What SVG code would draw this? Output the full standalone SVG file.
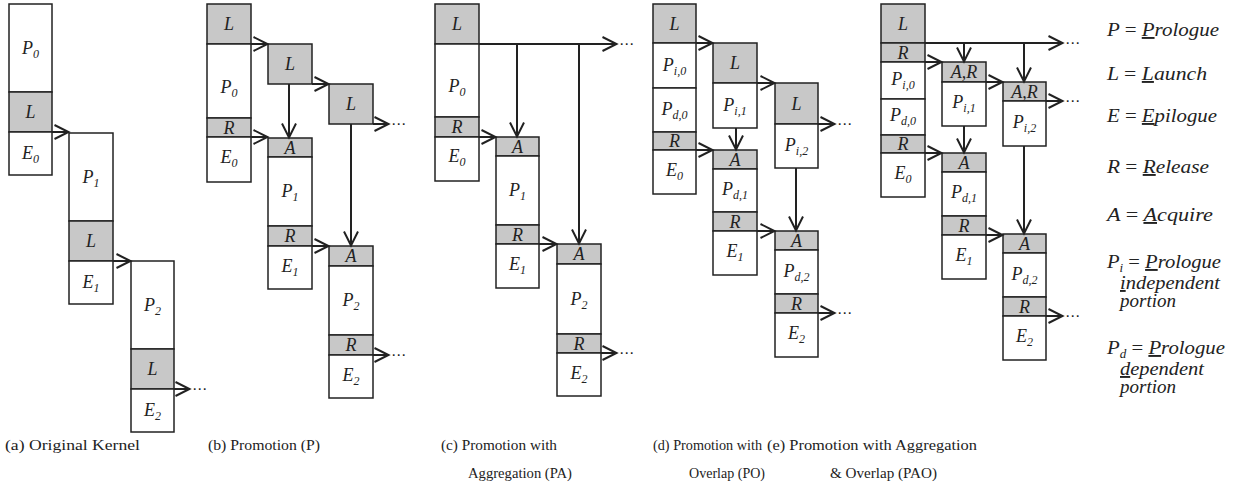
<svg xmlns="http://www.w3.org/2000/svg" width="1255" height="491" viewBox="0 0 1255 491">
<style>
.b{fill:#fff;stroke:#222;stroke-width:1.5}
.g{fill:#c8c8c8;stroke:#222;stroke-width:1.5}
.c{fill:none;stroke:#222;stroke-width:2;marker-end:url(#ah)}
.t{font-style:italic;font-size:18px;text-anchor:middle;fill:#222}
.s{font-size:12px}
.d{font-size:15px;fill:#222}
.lg{font-style:italic;font-size:19px;fill:#222}
.cap{font-size:15.5px;fill:#222}
.u{text-decoration:underline}
.up{font-style:normal}
</style>
<defs>
<marker id="ah" markerUnits="userSpaceOnUse" markerWidth="18" markerHeight="18" viewBox="0 0 18 18" refX="16.5" refY="9" orient="auto">
<path d="M2,2 L16,9 L2,16" fill="none" stroke="#222" stroke-width="2"/>
</marker>
</defs>

<g font-family="'Liberation Serif', 'DejaVu Serif', 'Times New Roman', serif">
<!-- Panel (a) -->
<g id="a0">
<rect class="b" x="9" y="4" width="43" height="88"/><rect class="g" x="9" y="92" width="43" height="40"/><rect class="b" x="9" y="132" width="43" height="43"/>
<text class="t" x="30.5" y="54">P<tspan class="s" dy="4">0</tspan></text>
<text class="t" x="30.5" y="118">L</text>
<text class="t" x="30.5" y="159">E<tspan class="s" dy="4">0</tspan></text>
</g>
<g id="a1">
<rect class="b" x="69" y="133" width="44" height="88"/><rect class="g" x="69" y="221" width="44" height="40"/><rect class="b" x="69" y="261" width="44" height="43"/>
<text class="t" x="91" y="183">P<tspan class="s" dy="4">1</tspan></text>
<text class="t" x="91" y="247">L</text>
<text class="t" x="91" y="288">E<tspan class="s" dy="4">1</tspan></text>
</g>
<g id="a2">
<rect class="b" x="131" y="261" width="43" height="88"/><rect class="g" x="131" y="349" width="43" height="40"/><rect class="b" x="131" y="389" width="43" height="43"/>
<text class="t" x="152.5" y="311">P<tspan class="s" dy="4">2</tspan></text>
<text class="t" x="152.5" y="375">L</text>
<text class="t" x="152.5" y="416">E<tspan class="s" dy="4">2</tspan></text>
</g>

<!-- Panel (b) -->
<g id="b0">
<rect class="g" x="207" y="4" width="44" height="40"/><rect class="b" x="207" y="44" width="44" height="74"/><rect class="g" x="207" y="118" width="44" height="19"/><rect class="b" x="207" y="137" width="44" height="45"/>
<text class="t" x="229" y="30">L</text>
<text class="t" x="229" y="93">P<tspan class="s" dy="4">0</tspan></text>
<text class="t" x="229" y="134">R</text>
<text class="t" x="229" y="163">E<tspan class="s" dy="4">0</tspan></text>
</g>
<g id="b1L"><rect class="g" x="268" y="44" width="44" height="40"/><text class="t" x="290" y="70">L</text></g>
<g id="b1">
<rect class="g" x="268" y="138" width="44" height="19"/><rect class="b" x="268" y="157" width="44" height="69"/><rect class="g" x="268" y="226" width="44" height="20"/><rect class="b" x="268" y="246" width="44" height="43"/>
<text class="t" x="290" y="154">A</text>
<text class="t" x="290" y="197">P<tspan class="s" dy="4">1</tspan></text>
<text class="t" x="290" y="242">R</text>
<text class="t" x="290" y="272">E<tspan class="s" dy="4">1</tspan></text>
</g>
<g id="b2L"><rect class="g" x="329" y="84" width="44" height="40"/><text class="t" x="351" y="110">L</text></g>
<g id="b2">
<rect class="g" x="329" y="246" width="44" height="20"/><rect class="b" x="329" y="266" width="44" height="69"/><rect class="g" x="329" y="335" width="44" height="20"/><rect class="b" x="329" y="355" width="44" height="43"/>
<text class="t" x="351" y="262">A</text>
<text class="t" x="351" y="306">P<tspan class="s" dy="4">2</tspan></text>
<text class="t" x="351" y="351">R</text>
<text class="t" x="351" y="381">E<tspan class="s" dy="4">2</tspan></text>
</g>

<!-- Panel (c) -->
<g id="c0">
<rect class="g" x="435" y="4" width="44" height="40"/><rect class="b" x="435" y="44" width="44" height="73"/><rect class="g" x="435" y="117" width="44" height="20"/><rect class="b" x="435" y="137" width="44" height="44"/>
<text class="t" x="457" y="30">L</text>
<text class="t" x="457" y="92">P<tspan class="s" dy="4">0</tspan></text>
<text class="t" x="457" y="133">R</text>
<text class="t" x="457" y="162">E<tspan class="s" dy="4">0</tspan></text>
</g>
<g id="c1">
<rect class="g" x="496" y="137" width="43" height="19"/><rect class="b" x="496" y="156" width="43" height="69"/><rect class="g" x="496" y="225" width="43" height="19"/><rect class="b" x="496" y="244" width="43" height="44"/>
<text class="t" x="517.5" y="153">A</text>
<text class="t" x="517.5" y="196">P<tspan class="s" dy="4">1</tspan></text>
<text class="t" x="517.5" y="241">R</text>
<text class="t" x="517.5" y="270">E<tspan class="s" dy="4">1</tspan></text>
</g>
<g id="c2">
<rect class="g" x="557" y="244" width="44" height="20"/><rect class="b" x="557" y="264" width="44" height="70"/><rect class="g" x="557" y="334" width="44" height="19"/><rect class="b" x="557" y="353" width="44" height="43"/>
<text class="t" x="579" y="260">A</text>
<text class="t" x="579" y="305">P<tspan class="s" dy="4">2</tspan></text>
<text class="t" x="579" y="350">R</text>
<text class="t" x="579" y="379">E<tspan class="s" dy="4">2</tspan></text>
</g>

<!-- Panel (d) -->
<g id="d0">
<rect class="g" x="653" y="4" width="43" height="39"/><rect class="b" x="653" y="43" width="43" height="45"/><rect class="b" x="653" y="88" width="43" height="44"/><rect class="g" x="653" y="132" width="43" height="18"/><rect class="b" x="653" y="150" width="43" height="44"/>
<text class="t" x="674.5" y="30">L</text>
<text class="t" x="674.5" y="71">P<tspan class="s" dy="4">i,0</tspan></text>
<text class="t" x="674.5" y="115">P<tspan class="s" dy="4">d,0</tspan></text>
<text class="t" x="674.5" y="147">R</text>
<text class="t" x="674.5" y="176">E<tspan class="s" dy="4">0</tspan></text>
</g>
<g id="d1t">
<rect class="g" x="713" y="43" width="44" height="40"/><rect class="b" x="713" y="83" width="44" height="45"/>
<text class="t" x="735" y="69">L</text>
<text class="t" x="735" y="111">P<tspan class="s" dy="4">i,1</tspan></text>
</g>
<g id="d1">
<rect class="g" x="713" y="150" width="44" height="19"/><rect class="b" x="713" y="169" width="44" height="43"/><rect class="g" x="713" y="212" width="44" height="19"/><rect class="b" x="713" y="231" width="44" height="44"/>
<text class="t" x="735" y="166">A</text>
<text class="t" x="735" y="195">P<tspan class="s" dy="4">d,1</tspan></text>
<text class="t" x="735" y="228">R</text>
<text class="t" x="735" y="257">E<tspan class="s" dy="4">1</tspan></text>
</g>
<g id="d2t">
<rect class="g" x="775" y="83" width="43" height="41"/><rect class="b" x="775" y="124" width="43" height="44"/>
<text class="t" x="796.5" y="110">L</text>
<text class="t" x="796.5" y="151">P<tspan class="s" dy="4">i,2</tspan></text>
</g>
<g id="d2">
<rect class="g" x="775" y="231" width="43" height="19"/><rect class="b" x="775" y="250" width="43" height="44"/><rect class="g" x="775" y="294" width="43" height="19"/><rect class="b" x="775" y="313" width="43" height="44"/>
<text class="t" x="796.5" y="247">A</text>
<text class="t" x="796.5" y="277">P<tspan class="s" dy="4">d,2</tspan></text>
<text class="t" x="796.5" y="310">R</text>
<text class="t" x="796.5" y="339">E<tspan class="s" dy="4">2</tspan></text>
</g>

<!-- Panel (e) -->
<g id="e0">
<rect class="g" x="881" y="4" width="44" height="39"/><rect class="g" x="881" y="43" width="44" height="19"/><rect class="b" x="881" y="62" width="44" height="37"/><rect class="b" x="881" y="99" width="44" height="36"/><rect class="g" x="881" y="135" width="44" height="18"/><rect class="b" x="881" y="153" width="44" height="44"/>
<text class="t" x="903" y="30">L</text>
<text class="t" x="903" y="59">R</text>
<text class="t" x="903" y="85">P<tspan class="s" dy="4">i,0</tspan></text>
<text class="t" x="903" y="121">P<tspan class="s" dy="4">d,0</tspan></text>
<text class="t" x="903" y="150">R</text>
<text class="t" x="903" y="179">E<tspan class="s" dy="4">0</tspan></text>
</g>
<g id="e1t">
<rect class="g" x="942" y="62" width="44" height="20"/><rect class="b" x="942" y="82" width="44" height="44"/>
<text class="t" x="964" y="78">A,R</text>
<text class="t" x="964" y="108">P<tspan class="s" dy="4">i,1</tspan></text>
</g>
<g id="e1">
<rect class="g" x="942" y="153" width="44" height="19"/><rect class="b" x="942" y="172" width="44" height="44"/><rect class="g" x="942" y="216" width="44" height="19"/><rect class="b" x="942" y="235" width="44" height="44"/>
<text class="t" x="964" y="169">A</text>
<text class="t" x="964" y="198">P<tspan class="s" dy="4">d,1</tspan></text>
<text class="t" x="964" y="232">R</text>
<text class="t" x="964" y="261">E<tspan class="s" dy="4">1</tspan></text>
</g>
<g id="e2t">
<rect class="g" x="1003" y="82" width="43" height="19"/><rect class="b" x="1003" y="101" width="43" height="45"/>
<text class="t" x="1024.5" y="98">A,R</text>
<text class="t" x="1024.5" y="128">P<tspan class="s" dy="4">i,2</tspan></text>
</g>
<g id="e2">
<rect class="g" x="1003" y="234" width="43" height="19"/><rect class="b" x="1003" y="253" width="43" height="44"/><rect class="g" x="1003" y="297" width="43" height="19"/><rect class="b" x="1003" y="316" width="43" height="44"/>
<text class="t" x="1024.5" y="250">A</text>
<text class="t" x="1024.5" y="280">P<tspan class="s" dy="4">d,2</tspan></text>
<text class="t" x="1024.5" y="313">R</text>
<text class="t" x="1024.5" y="342">E<tspan class="s" dy="4">2</tspan></text>
</g>

<!-- Legend -->
<g id="legend">
<text class="lg" x="1107" y="36" textLength="112" lengthAdjust="spacingAndGlyphs">P <tspan class="up">=</tspan> <tspan class="u">P</tspan>rologue</text>
<text class="lg" x="1107" y="80" textLength="100" lengthAdjust="spacingAndGlyphs">L <tspan class="up">=</tspan> <tspan class="u">L</tspan>aunch</text>
<text class="lg" x="1107" y="122" textLength="110" lengthAdjust="spacingAndGlyphs">E <tspan class="up">=</tspan> <tspan class="u">E</tspan>pilogue</text>
<text class="lg" x="1107" y="173" textLength="102" lengthAdjust="spacingAndGlyphs">R <tspan class="up">=</tspan> <tspan class="u">R</tspan>elease</text>
<text class="lg" x="1107" y="221" textLength="106" lengthAdjust="spacingAndGlyphs">A <tspan class="up">=</tspan> <tspan class="u">A</tspan>cquire</text>
<text class="lg" x="1107" y="268" textLength="114" lengthAdjust="spacingAndGlyphs">P<tspan class="s" dy="4">i</tspan><tspan dy="-4"> </tspan><tspan class="up">=</tspan> <tspan class="u">P</tspan>rologue</text>
<text class="lg" x="1120" y="289" textLength="100" lengthAdjust="spacingAndGlyphs"><tspan class="u">i</tspan>ndependent</text>
<text class="lg" x="1120" y="307">portion</text>
<text class="lg" x="1107" y="354" textLength="118" lengthAdjust="spacingAndGlyphs">P<tspan class="s" dy="4">d</tspan><tspan dy="-4"> </tspan><tspan class="up">=</tspan> <tspan class="u">P</tspan>rologue</text>
<text class="lg" x="1120" y="375" textLength="84" lengthAdjust="spacingAndGlyphs"><tspan class="u">d</tspan>ependent</text>
<text class="lg" x="1120" y="393">portion</text>
</g>

<!-- Captions -->
<g id="captions">
<text class="cap" x="5" y="450" textLength="135" lengthAdjust="spacingAndGlyphs">(a) Original Kernel</text>
<text class="cap" x="208" y="450" textLength="112" lengthAdjust="spacingAndGlyphs">(b) Promotion (P)</text>
<text class="cap" x="441" y="450" textLength="116" lengthAdjust="spacingAndGlyphs">(c) Promotion with</text>
<text class="cap" x="468" y="478" textLength="104" lengthAdjust="spacingAndGlyphs">Aggregation (PA)</text>
<text class="cap" x="653" y="450" textLength="109" lengthAdjust="spacingAndGlyphs">(d) Promotion with</text>
<text class="cap" x="689" y="478" textLength="76" lengthAdjust="spacingAndGlyphs">Overlap (PO)</text>
<text class="cap" x="767" y="450" textLength="210" lengthAdjust="spacingAndGlyphs">(e) Promotion with Aggregation</text>
<text class="cap" x="830" y="478" textLength="107" lengthAdjust="spacingAndGlyphs">&amp; Overlap (PAO)</text>
</g>
</g>

<!-- Connectors -->
<g id="connectors">
<path class="c" d="M52,132 H69"/>
<path class="c" d="M113,261 H131"/>
<path class="c" d="M174,389 H190"/>

<path class="c" d="M251,44 H268"/>
<path class="c" d="M312,84 H329"/>
<path class="c" d="M373,124 H389"/>
<path class="c" d="M251,137 H268"/>
<path class="c" d="M312,246 H329"/>
<path class="c" d="M373,355 H389"/>
<path class="c" d="M289,84 V138"/>
<path class="c" d="M351,124 V246"/>

<path class="c" d="M479,44 H617"/>
<path class="c" d="M517,44 V137"/>
<path class="c" d="M579,44 V244"/>
<path class="c" d="M479,137 H496"/>
<path class="c" d="M539,244 H557"/>
<path class="c" d="M601,353 H617"/>

<path class="c" d="M696,43 H713"/>
<path class="c" d="M757,83 H775"/>
<path class="c" d="M818,124 H835"/>
<path class="c" d="M696,150 H713"/>
<path class="c" d="M757,231 H775"/>
<path class="c" d="M818,313 H835"/>
<path class="c" d="M736,128 V150"/>
<path class="c" d="M796,168 V231"/>

<path class="c" d="M925,43 H1063"/>
<path class="c" d="M964,43 V62"/>
<path class="c" d="M1024,43 V82"/>
<path class="c" d="M925,62 H942"/>
<path class="c" d="M986,82 H1003"/>
<path class="c" d="M1046,101 H1063"/>
<path class="c" d="M964,126 V153"/>
<path class="c" d="M1024,146 V234"/>
<path class="c" d="M925,153 H942"/>
<path class="c" d="M986,235 H1003"/>
<path class="c" d="M1046,316 H1063"/>
</g>

<!-- ellipses -->
<g id="dots" font-family="'DejaVu Sans', sans-serif">
<text class="d" x="192" y="394">⋯</text>
<text class="d" x="391" y="129">⋯</text>
<text class="d" x="391" y="360">⋯</text>
<text class="d" x="619" y="49">⋯</text>
<text class="d" x="619" y="358">⋯</text>
<text class="d" x="837" y="129">⋯</text>
<text class="d" x="837" y="318">⋯</text>
<text class="d" x="1065" y="48">⋯</text>
<text class="d" x="1065" y="106">⋯</text>
<text class="d" x="1065" y="321">⋯</text>
</g>
</svg>
